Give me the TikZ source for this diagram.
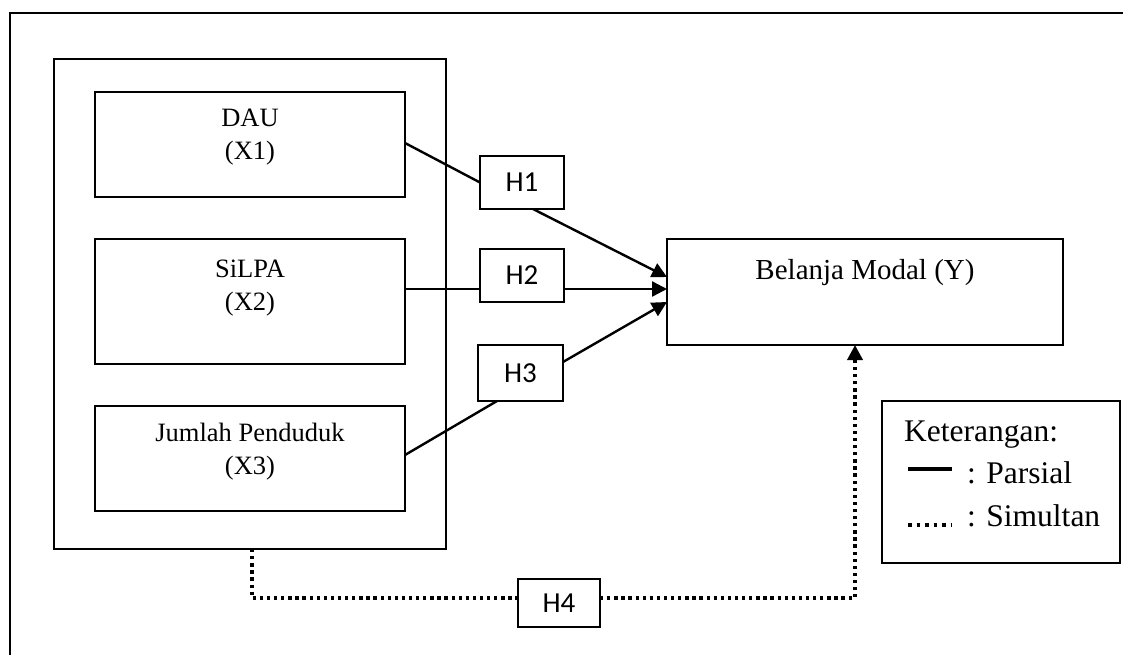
\documentclass[tikz,border=0pt]{standalone}
\usepackage{fontspec}
\setmainfont{Liberation Serif}
\newfontfamily\hfont{Carlito}
\usetikzlibrary{arrows.meta,calc}
\tikzset{
  box/.style={draw, line width=2.2pt, rectangle, inner sep=0pt, outer sep=0pt},
  hbox/.style={box, font=\hfont\fontsize{29}{30}\selectfont, text height=18.5pt, text depth=0pt},
  lbl/.style={anchor=base, inner sep=0pt, font=\fontsize{26.5}{30}\selectfont},
  leg/.style={anchor=base west, inner sep=0pt, font=\fontsize{31.5}{34}\selectfont},
  solidarrow/.style={line width=2.4pt, -{Triangle[length=15pt,width=15pt]}},
  solidline/.style={line width=2.4pt},
  dotline/.style={line width=3.6pt, dash pattern=on 3.3pt off 3.8pt},
  dotarrow/.style={dotline, -{Triangle[length=15pt,width=15pt]}}
}
\begin{document}
\begin{tikzpicture}[x=1pt,y=-1pt]
\useasboundingbox (0,0) rectangle (1123,655);
\clip (0,0) rectangle (1123,655);
\fill[white] (0,0) rectangle (1123,655);
% outer frame (right and bottom edges lie outside)
\draw[line width=2.2pt] (1140,13) -- (10,13) -- (10,670);

% container and variable boxes
\node[box, minimum width=392pt, minimum height=490pt] (container) at (250,304) {};
\node[box, minimum width=310pt, minimum height=105pt] (dau) at (250,144.5) {};
\node[box, minimum width=310pt, minimum height=125pt] (silpa) at (250,301.5) {};
\node[box, minimum width=310pt, minimum height=105pt] (jumlah) at (250,458.5) {};
\node[box, minimum width=396pt, minimum height=106pt] (ybox) at (865,292) {};

\node[lbl] (dau1) at (250,127) {DAU};
\node[lbl] (dau2) at (250,160) {(X1)};
\node[lbl] (silpa1) at (250,277) {SiLPA};
\node[lbl] (silpa2) at (250,310) {(X2)};
\node[lbl] (jum1) at (250,441) {Jumlah Penduduk};
\node[lbl] (jum2) at (250,474) {(X3)};
\node[lbl, font=\fontsize{29}{32}\selectfont] (ylbl) at (865,279) {Belanja Modal (Y)};

% hypothesis boxes
\node[hbox, minimum width=84pt, minimum height=53pt] (h1) at (522,182.5) {H1};
\node[hbox, minimum width=84pt, minimum height=53pt] (h2) at (522,275.5) {H2};
\node[hbox, minimum width=85pt, minimum height=56pt] (h3) at (520.5,373) {H3};
\node[hbox, minimum width=82pt, minimum height=48pt] (h4) at (559,603) {H4};

% partial paths
\draw[solidline] ([yshift=1.5pt]dau.east) -- (h1.west);
\draw[solidarrow] ([xshift=11pt]h1.south) -- ([yshift=15pt]ybox.west);
\draw[solidline] ([yshift=12.5pt]silpa.east) -- ([yshift=-13.5pt]h2.west);
\draw[solidarrow] ([yshift=-13.5pt]h2.east) -- ([yshift=3pt]ybox.west);
\draw[solidline] ([yshift=3.5pt]jumlah.east) -- ([xshift=-23.5pt]h3.south);
\draw[solidarrow] ([yshift=11pt]h3.east) -- ([yshift=-10pt]ybox.west);

% simultaneous path
\draw[dotline] ([xshift=2pt]container.south) |- ([yshift=5pt]h4.west);
\draw[dotarrow] ([yshift=5pt]h4.east) -| ([xshift=-10pt]ybox.south);

% legend
\node[box, minimum width=238pt, minimum height=162pt] (legend) at (1001,482) {};
\node[leg] (k) at (904,441.5) {Keterangan:};
\coordinate (s1a) at (908,469);
\coordinate (s1b) at (952,469);
\draw[line width=4pt] (s1a) -- (s1b);
\node[leg] (kp) at (967,483) {: Parsial};
\coordinate (s2a) at (908,525);
\coordinate (s2b) at (952,525);
\draw[line width=4pt, dash pattern=on 3.5pt off 5pt] (s2a) -- (s2b);
\node[leg] (ks) at (967,526.5) {: Simultan};
\end{tikzpicture}
\end{document}
